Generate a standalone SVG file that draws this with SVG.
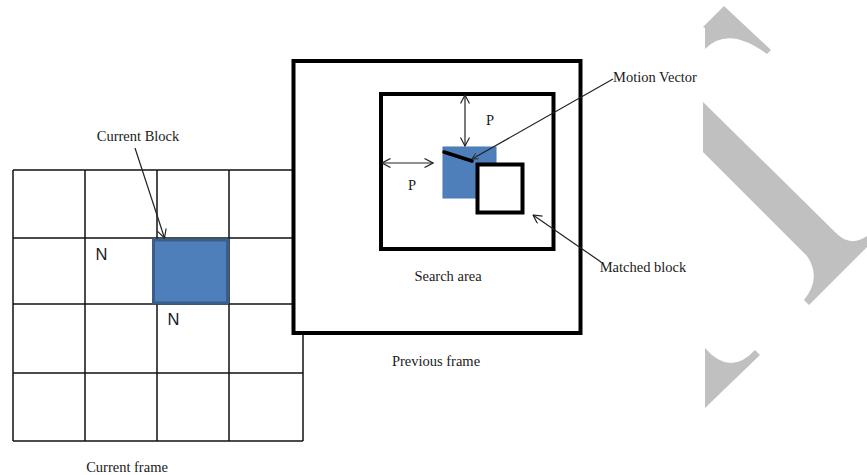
<svg xmlns="http://www.w3.org/2000/svg" width="867" height="475" viewBox="0 0 867 475">
<style>
.serif{font-family:"Liberation Serif","Times New Roman",serif;font-size:14.5px;fill:#1a1a1a;text-anchor:middle}
.sans{font-family:"Liberation Sans",Arial,sans-serif;font-size:16.5px;fill:#1a1a1a;text-anchor:middle}
.grid{stroke:#111;stroke-width:1.5;fill:none}
.thick{stroke:#000;stroke-width:4;fill:#fff}
.blue{fill:#4f7fbb;stroke:#3a5e8c;stroke-width:3}
.thin{stroke:#222;stroke-width:1.2;fill:none}
.wm{fill:#c0c0c0}
</style>
<defs>
<marker id="open" viewBox="0 0 10 10" refX="9.5" refY="5" markerWidth="10" markerHeight="10" markerUnits="userSpaceOnUse" orient="auto-start-reverse">
<path d="M1,0.5 L9.5,5 L1,9.5" fill="none" stroke="#222" stroke-width="1.2"/>
</marker>
<marker id="small" viewBox="0 0 10 10" refX="9.5" refY="5" markerWidth="7" markerHeight="7" markerUnits="userSpaceOnUse" orient="auto-start-reverse">
<path d="M1,0.5 L9.5,5 L1,9.5" fill="none" stroke="#222" stroke-width="1.2"/>
</marker>
</defs>
<rect width="867" height="475" fill="#fff"/>
<g id="watermark">
<path class="wm" d="M724,6 L771,50 L767,54 Q728,25 705,49 L705,28 L703,27 Z"/>
<path class="wm" d="M703,102 L835,232 Q850,248 867,236 L867,247 L809,305 L804,300 Q822,278 807,256 L703,152 Z"/>
<path class="wm" d="M705,348 Q730,377 755,350 L760,355 L705,408 Z"/>
</g>
<g id="current-frame">
<g class="grid">
<line x1="13" y1="170" x2="13" y2="441"/>
<line x1="85" y1="170" x2="85" y2="441"/>
<line x1="157" y1="170" x2="157" y2="441"/>
<line x1="229" y1="170" x2="229" y2="441"/>
<line x1="303" y1="170" x2="303" y2="441"/>
<line x1="13" y1="170" x2="303" y2="170"/>
<line x1="13" y1="238" x2="303" y2="238"/>
<line x1="13" y1="304" x2="303" y2="304"/>
<line x1="13" y1="373" x2="303" y2="373"/>
<line x1="13" y1="441" x2="303" y2="441"/>
</g>
<text class="serif" x="127" y="472">Current frame</text>
</g>
<g id="current-block">
<rect class="blue" x="153.5" y="240" width="74" height="63"/>
<text class="sans" x="101.5" y="260">N</text>
<text class="sans" x="173.5" y="325">N</text>
</g>
<g id="previous-frame">
<rect class="thick" x="293.5" y="61" width="287" height="272"/>
<text class="serif" x="436" y="366">Previous frame</text>
</g>
<g id="search-area">
<rect class="thick" x="381" y="94" width="172.5" height="155"/>
<text class="serif" x="448" y="281">Search area</text>
</g>
<g id="candidate-block">
<rect x="443" y="147" width="53" height="51" fill="#4f7fbb" stroke="#4a78b0" stroke-width="1"/>
</g>
<g id="matched-block">
<rect class="thick" x="477.5" y="164.5" width="45" height="48"/>
</g>
<g id="labels">
<text class="serif" x="138" y="141">Current Block</text>
<text class="serif" x="655" y="82">Motion Vector</text>
<text class="serif" x="643" y="272">Matched block</text>
<text class="serif" x="490" y="125">P</text>
<text class="serif" x="412" y="190">P</text>
</g>
<g id="connectors">
<line class="thin" x1="135" y1="148" x2="164.5" y2="238" marker-end="url(#open)"/>
<line class="thin" x1="465" y1="95" x2="465" y2="146" marker-start="url(#open)" marker-end="url(#open)"/>
<line class="thin" x1="382" y1="163" x2="433" y2="163" marker-start="url(#open)" marker-end="url(#open)"/>
<line x1="444" y1="152" x2="472" y2="161" stroke="#000" stroke-width="3.5" stroke-linecap="round"/>
<line class="thin" x1="472" y1="159" x2="613" y2="79" marker-start="url(#small)"/>
<line class="thin" x1="601" y1="262" x2="533" y2="215" marker-end="url(#open)"/>
</g>
</svg>
